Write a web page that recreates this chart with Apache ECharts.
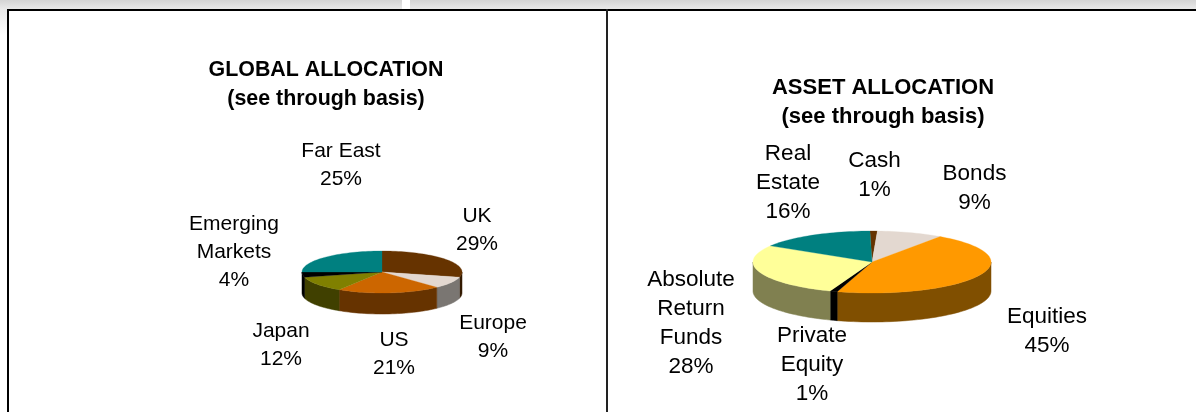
<!DOCTYPE html>
<html>
<head>
<meta charset="utf-8">
<style>
	html, body { margin: 0; padding: 0; background: #fff; }
	#chart { width: 1196px; height: 412px; }
</style>
<script src="https://cdn.jsdelivr.net/npm/echarts@6/dist/echarts.min.js"></script>
</head>
<body>
<div id="chart"></div>
<script>
// clockwise from 12 o'clock, as in the picture
var globalNames = ['UK', 'Europe', 'US', 'Japan', 'Emerging\nMarkets', 'Far East'];
var globalValues = [29, 9, 21, 12, 4, 25];
var globalColors = ['#663300', '#e3d8d0', '#cc6600', '#808000', '#000000', '#008080'];
var globalSides = ['#331a00', '#7a7672', '#663300', '#404000', '#000000', '#004040'];

var assetNames = ['Cash', 'Bonds', 'Equities', 'Private\nEquity', 'Absolute\nReturn\nFunds', 'Real\nEstate'];
var assetValues = [1, 9, 45, 1, 28, 16];
var assetColors = ['#663300', '#e3d8d0', '#ff9900', '#000000', '#ffff99', '#008080'];
var assetSides = ['#331a00', '#7a7672', '#804f00', '#000000', '#808050', '#004040'];

var titles = [
	{ text: 'GLOBAL ALLOCATION\n(see through basis)', x: 326, y: 56, size: 21.4 },
	{ text: 'ASSET ALLOCATION\n(see through basis)', x: 883, y: 73, size: 22 }
];

// pie geometry
var globalPie = { cx: 382, cy: 272, rx: 80, ry: 21, depth: 21, start: 0 };
var assetPie = { cx: 872, cy: 262, rx: 119, ry: 31, depth: 29, start: -1 };

// label anchors, same order as the names
var globalLabelPos = [[477, 202], [493, 309], [394, 326], [281, 317], [234, 210], [341, 137]];
var assetLabelPos = [[874.5, 146], [974.5, 159], [1047, 302], [812, 321], [691, 265], [788, 139]];

function slices(values, names, colors, sides, pie) {
	var total = values.reduce(function(a, b) { return a + b }, 0);
	var run = 0;
	return values.map(function(v, i) {
		var from = pie.start + run / total * 360;
		run += v;
		var to = pie.start + run / total * 360;
		return { name: names[i], value: v, from: from, to: to, color: colors[i], side: sides[i], pie: pie };
	});
}

function pt(pie, deg, drop) {
	var a = deg * Math.PI / 180;
	return [pie.cx + pie.rx * Math.sin(a), pie.cy - pie.ry * Math.cos(a) + (drop || 0)];
}

function arc(pie, from, to, drop) {
	var pts = [];
	var n = Math.max(2, Math.ceil((to - from) / 2));
	for (var i = 0; i <= n; i++) {
		pts.push(pt(pie, from + (to - from) * i / n, drop));
	}
	return pts;
}

var allSlices = slices(globalValues, globalNames, globalColors, globalSides, globalPie)
	.concat(slices(assetValues, assetNames, assetColors, assetSides, assetPie));

function renderSide(params) {
	var s = allSlices[params.dataIndex];
	var from = Math.max(s.from, 90);
	var to = Math.min(s.to, 270);
	if (to <= from) return null;
	var upper = arc(s.pie, from, to, 0);
	var lower = arc(s.pie, from, to, s.pie.depth).reverse();
	return {
		type: 'polygon',
		shape: { points: upper.concat(lower) },
		style: { fill: s.side, stroke: s.side, lineWidth: 0.5 }
	};
}

function renderTop(params) {
	var s = allSlices[params.dataIndex];
	var pts = [[s.pie.cx, s.pie.cy]].concat(arc(s.pie, s.from, s.to, 0));
	return {
		type: 'polygon',
		shape: { points: pts },
		style: { fill: s.color, stroke: s.color, lineWidth: 0.3 }
	};
}

function labelText(name, value, pos, size, lineHeight) {
	return {
		type: 'text',
		x: pos[0],
		y: pos[1],
		style: {
			text: name + '\n' + value + '%',
			fill: '#000',
			font: size + 'px "Liberation Sans", Arial, sans-serif',
			lineHeight: lineHeight,
			align: 'center',
			verticalAlign: 'top'
		}
	};
}

var labels = [];
globalNames.forEach(function(n, i) { labels.push(labelText(n, globalValues[i], globalLabelPos[i], 21, 28)) });
assetNames.forEach(function(n, i) { labels.push(labelText(n, assetValues[i], assetLabelPos[i], 22.5, 29)) });

var titleEls = titles.map(function(t) {
	return {
		type: 'text',
		x: t.x,
		y: t.y,
		style: {
			text: t.text,
			fill: '#000',
			font: 'bold ' + t.size + 'px "Liberation Sans", Arial, sans-serif',
			lineHeight: 29,
			align: 'center',
			verticalAlign: 'top'
		}
	};
});

function band(x, y, w, h, fill) {
	return { type: 'rect', silent: true, shape: { x: x, y: y, width: w, height: h }, style: { fill: fill } };
}

var topFade = new echarts.graphic.LinearGradient(0, 0, 0, 1, [
	{ offset: 0, color: '#d4d4d4' },
	{ offset: 1, color: '#e9e9e9' }
]);
var leftFade = new echarts.graphic.LinearGradient(0, 0, 0, 1, [
	{ offset: 0, color: '#e9e9e9' },
	{ offset: 1, color: '#ffffff' }
]);

// page furniture behind the charts
var frame = [
	band(0, 0, 1196, 9, topFade),
	band(402, 0, 8, 9, '#ffffff'),
	band(0, 9, 7, 26, leftFade),
	band(7, 9, 1189, 2, '#000000'),
	band(7, 9, 2, 403, '#000000'),
	band(606, 9, 2, 403, '#222222')
];

var chart = echarts.init(document.getElementById('chart'), null, { renderer: 'canvas' });
chart.setOption({
	animation: false,
	backgroundColor: '#ffffff',
	graphic: frame.concat(titleEls, labels),
	series: [
		{
			type: 'custom',
			coordinateSystem: 'none',
			silent: true,
			renderItem: renderSide,
			data: allSlices.map(function(s) { return s.value })
		},
		{
			type: 'custom',
			coordinateSystem: 'none',
			silent: true,
			renderItem: renderTop,
			data: allSlices.map(function(s) { return s.value })
		}
	]
});
</script>
</body>
</html>
